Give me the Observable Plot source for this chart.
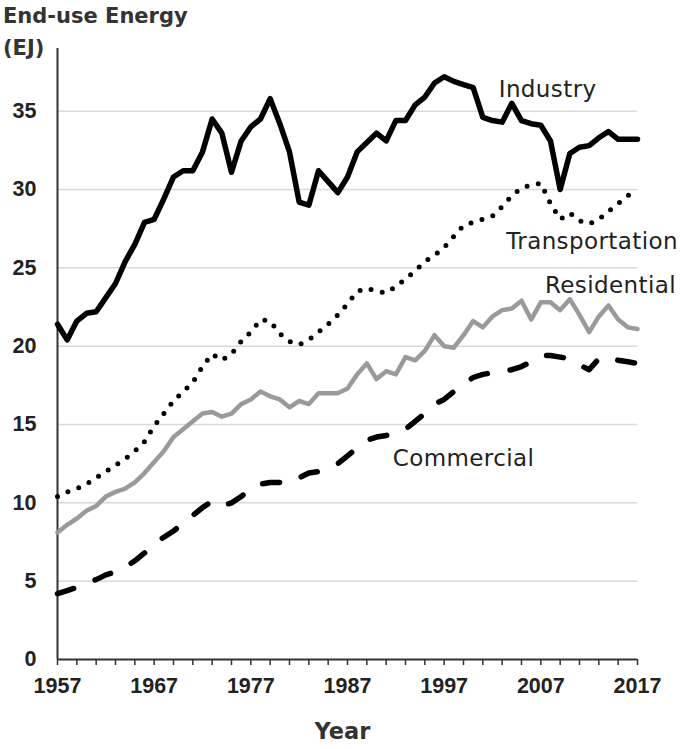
<!DOCTYPE html>
<html>
<head>
<meta charset="utf-8">
<script src="https://cdn.jsdelivr.net/npm/d3@7"></script>
<script src="https://cdn.jsdelivr.net/npm/@observablehq/plot@0.6"></script>
<style>
  body { margin: 0; background: #fff; }
  #wrap { position: relative; width: 685px; height: 749px; }
  #title { position: absolute; left: 3px; top: 0px; font: bold 21px "DejaVu Sans", sans-serif; color: #333; line-height: 32px; }
  #title .l2 { display: block; }
</style>
</head>
<body>
<div id="wrap">
  <div id="title"><span class="l2">End-use Energy</span><span class="l2">(EJ)</span></div>
</div>
<script>
// ---- Data ----
const years = d3.range(1957, 2018);
const industry = [
  21.4, 20.4, 21.6, 22.1, 22.2, 23.1, 24.0, 25.4, 26.5, 27.9,
  28.1, 29.4, 30.8, 31.2, 31.2, 32.4, 34.5, 33.6, 31.1, 33.1,
  34.0, 34.5, 35.8, 34.2, 32.4, 29.2, 29.0, 31.2, 30.5, 29.8,
  30.8, 32.4, 33.0, 33.6, 33.1, 34.4, 34.4, 35.4, 35.9, 36.8,
  37.2, 36.9, 36.7, 36.5, 34.6, 34.4, 34.3, 35.5, 34.4, 34.2,
  34.1, 33.1, 30.0, 32.3, 32.7, 32.8, 33.3, 33.7, 33.2, 33.2,
  33.2
];
const transportation = [
  10.4, 10.7, 10.9, 11.2, 11.6, 12.0, 12.4, 12.8, 13.3, 13.9,
  14.9, 15.7, 16.5, 17.1, 17.7, 18.7, 19.5, 19.1, 19.5, 20.3,
  20.9, 21.7, 21.6, 20.8, 20.3, 20.1, 20.4, 20.9, 21.4, 22.0,
  22.7, 23.5, 23.7, 23.5, 23.4, 23.8, 24.3, 24.8, 25.4, 25.8,
  26.3, 27.0, 27.7, 27.9, 28.1, 28.3, 28.9, 29.6, 30.1, 30.3,
  30.4, 29.1, 28.1, 28.5, 28.0, 27.8, 28.1, 28.6, 29.1, 29.6,
  30.0
];
const residential = [
  8.1, 8.6, 9.0, 9.5, 9.8, 10.4, 10.7, 10.9, 11.3, 11.9,
  12.6, 13.3, 14.2, 14.7, 15.2, 15.7, 15.8, 15.5, 15.7, 16.3,
  16.6, 17.1, 16.8, 16.6, 16.1, 16.5, 16.3, 17.0, 17.0, 17.0,
  17.3, 18.2, 18.9, 17.9, 18.4, 18.2, 19.3, 19.1, 19.7, 20.7,
  20.0, 19.9, 20.7, 21.6, 21.2, 21.9, 22.3, 22.4, 22.9, 21.7,
  22.8, 22.8, 22.3, 23.0, 22.0, 20.9, 21.9, 22.6, 21.7, 21.2,
  21.1
];
const commercial = [
  4.2, 4.4, 4.6, 4.9, 5.1, 5.4, 5.6, 5.9, 6.3, 6.8,
  7.4, 7.8, 8.2, 8.7, 9.2, 9.7, 10.1, 9.8, 10.0, 10.4,
  10.9, 11.2, 11.3, 11.3, 11.3, 11.6, 11.9, 12.0, 12.3, 12.5,
  13.0, 13.5, 14.0, 14.2, 14.3, 14.5, 14.7, 15.2, 15.7, 16.3,
  16.6, 17.1, 17.6, 18.0, 18.2, 18.3, 18.4, 18.5, 18.7, 19.0,
  19.4, 19.4, 19.3, 19.2, 18.8, 18.5, 19.2, 19.3, 19.1, 19.0,
  18.9
];
const yTicks = [0, 5, 10, 15, 20, 25, 30, 35];
const xLabelTicks = [1957, 1967, 1977, 1987, 1997, 2007, 2017];
const seriesNames = ["Industry", "Transportation", "Residential", "Commercial"];
// label anchors in data coordinates (year, EJ)
const labelYears = [2007.7, 2012.3, 2014.2, 1999.0];
const labelValues = [36.4, 26.7, 23.85, 12.85];

// ---- Build tables ----
const toRows = (vals) => years.map((yr, i) => ({year: yr, value: vals[i]}));
const rowsInd = toRows(industry);
const rowsTra = toRows(transportation);
const rowsRes = toRows(residential);
const rowsCom = toRows(commercial);
const labels = seriesNames.map((s, i) => ({name: s, year: labelYears[i], value: labelValues[i]}));
const minorTicks = d3.range(1957, 2018, 2);

const chart = Plot.plot({
  width: 685,
  height: 749,
  marginLeft: 57,
  marginRight: 48,
  marginTop: 48,
  marginBottom: 90,
  style: {fontFamily: "'Liberation Sans', Arial, sans-serif", fontSize: "21.5px", fontWeight: "bold", color: "#222", background: "transparent"},
  x: {domain: [1957, 2017]},
  y: {domain: [0, 39]},
  marks: [
    Plot.ruleY(yTicks.filter(d => d > 0), {stroke: "#d9d9d9", strokeWidth: 1.5}),
    Plot.axisY({ticks: yTicks, tickSize: 0, tickPadding: 21, tickFormat: d => String(d), label: null, fill: "#222"}),
    Plot.axisX({ticks: minorTicks, tickSize: 6, tickPadding: 12, stroke: "#333", strokeWidth: 1.5,
      tickFormat: d => xLabelTicks.includes(d) ? String(d) : "", label: null, fill: "#222"}),
    Plot.ruleX([1957], {stroke: "#333", strokeWidth: 2}),
    Plot.ruleY([0], {stroke: "#333", strokeWidth: 2}),
    Plot.line(rowsCom, {x: "year", y: "value", stroke: "#000", strokeWidth: 5.5, strokeDasharray: "17,23", strokeLinecap: "round", strokeLinejoin: "round"}),
    Plot.line(rowsRes, {x: "year", y: "value", stroke: "#9a9a9a", strokeWidth: 4.5, strokeLinejoin: "round"}),
    Plot.line(rowsTra, {x: "year", y: "value", stroke: "#000", strokeWidth: 5, strokeDasharray: "0,11.5", strokeLinecap: "round"}),
    Plot.line(rowsInd, {x: "year", y: "value", stroke: "#000", strokeWidth: 5.5, strokeLinejoin: "round"}),
    Plot.text(labels, {x: "year", y: "value", text: "name", fontFamily: "'DejaVu Sans', sans-serif", fontSize: 23, fontWeight: "normal", fill: "#222"}),
    Plot.text(["Year"], {frameAnchor: "bottom", dy: 79, dx: -5, fontFamily: "'DejaVu Sans', sans-serif", fontSize: 22.5, fontWeight: "bold", fill: "#333"})
  ]
});

// letter spacing for series labels
d3.select(chart).selectAll("g[aria-label='text']").filter(function() {
  return this.getAttribute("font-size") === "23";
}).attr("letter-spacing", "0.4");

document.getElementById("wrap").prepend(chart);
</script>
</body>
</html>
